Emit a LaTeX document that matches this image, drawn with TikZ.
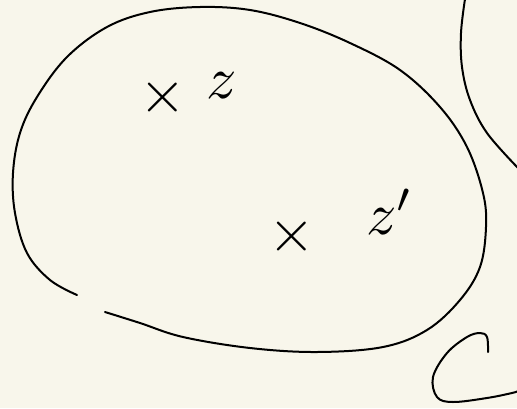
\documentclass[tikz,border=0pt]{standalone}
\usepackage{amssymb}
\definecolor{paper}{HTML}{F8F6EB}
\tikzset{
  ink/.style={line width=2pt,line cap=round,line join=round},
  pointmark/.style={scale=6,inner sep=0pt}
}
\begin{document}
\begin{tikzpicture}[x=1pt,y=-1pt]
  \fill[paper] (0,0) rectangle (517,408);
  \useasboundingbox (0,0) rectangle (517,408);
  % the open blob, with a gap at the lower left
  \draw[ink] plot[smooth,tension=0.6] coordinates {
    (105,312) (140,323) (183,337) (250,348) (317,352) (383,347)
    (427,330) (460,300) (480,267) (486,227) (483,193) (467,147)
    (440,107) (400,70) (350,43) (300,23) (250,10) (200,7)
    (150,12) (107,27) (67,57) (37,97) (20,133) (13,173)
    (15,213) (27,253) (50,280) (77,295)};
  % edge of a second region, top right
  \draw[ink] plot[smooth,tension=0.6] coordinates {
    (465,-1) (461,33) (462,67) (470,100) (487,133) (518,168)};
  % the C, bottom right
  \draw[ink] plot[smooth,tension=0.6] coordinates {
    (488,352) (487,337) (480,333) (467,337) (447,353) (433,377)
    (437,397) (453,402) (487,398) (512,393) (518,391)};
  % points z and z'
  \node[pointmark] (crossz) at (163,97) {$\times$};
  \node[pointmark] (labz) at (222,86) {$z$};
  \node[pointmark] (crosszp) at (292,236) {$\times$};
  \node[pointmark] (labzp) at (390,212) {$z'$};
\end{tikzpicture}
\end{document}
